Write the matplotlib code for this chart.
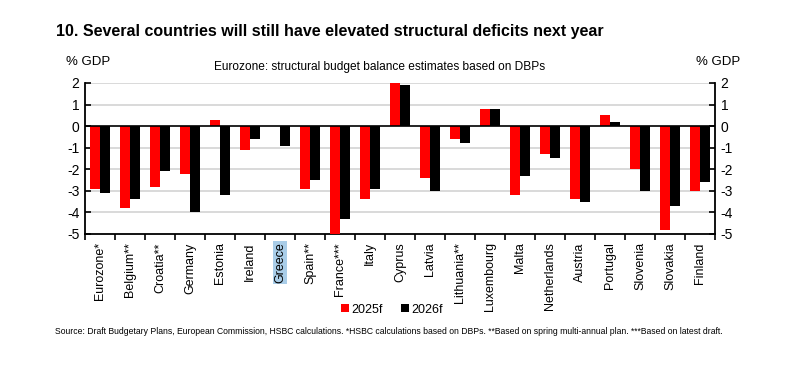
import matplotlib
matplotlib.use("Agg")
import matplotlib.pyplot as plt
import numpy as np

plt.rcParams['font.family'] = ['Liberation Sans', 'DejaVu Sans']

# Datos (% del PIB)
paises = ["Eurozone*", "Belgium**", "Croatia**", "Germany", "Estonia", "Ireland",
          "Greece", "Spain**", "France***", "Italy", "Cyprus", "Latvia",
          "Lithuania**", "Luxembourg", "Malta", "Netherlands", "Austria",
          "Portugal", "Slovenia", "Slovakia", "Finland"]
saldo_2025 = [-2.9, -3.8, -2.8, -2.2, 0.3, -1.1, 0.0, -2.9, -5.0, -3.4, 2.0,
              -2.4, -0.6, 0.8, -3.2, -1.3, -3.4, 0.5, -2.0, -4.8, -3.0]
saldo_2026 = [-3.1, -3.4, -2.1, -4.0, -3.2, -0.6, -0.9, -2.5, -4.3, -2.9, 1.9,
              -3.0, -0.8, 0.8, -2.3, -1.5, -3.5, 0.2, -3.0, -3.7, -2.6]
ticks_y = [2, 1, 0, -1, -2, -3, -4, -5]

fig = plt.figure(figsize=(8, 3.72), dpi=100)
ax = fig.add_axes([0.10625, 0.371, 0.7875, 0.406])

x = np.arange(len(paises))
ancho = 0.335
ax.bar(x - ancho / 2, saldo_2025, ancho, color='#ff0000', label='2025f', zorder=3)
ax.bar(x + ancho / 2, saldo_2026, ancho, color='#000000', label='2026f', zorder=3)

ax.set_xlim(-0.5, len(paises) - 0.5)
ax.set_ylim(-5, 2)

# Rejilla y línea de cero
for v in ticks_y:
    if v == 0:
        ax.axhline(0, color='black', linewidth=1.2, zorder=4)
    elif v != -5:
        ax.axhline(v, color='#d9d9d9', linewidth=1.4, zorder=1)

ax.spines['top'].set_visible(False)
for s in ['left', 'right', 'bottom']:
    ax.spines[s].set_linewidth(1.3)
    ax.spines[s].set_color('black')

ax.set_yticks(ticks_y)
ax.set_yticklabels([str(v) for v in ticks_y], fontsize=10)
ax.tick_params(axis='y', direction='in', length=4, width=1.2, left=True, right=True,
               labelleft=True, labelright=True, pad=4)

# Ticks del eje X en los bordes de categoría, etiquetas centradas
ax.set_xticks(np.arange(len(paises) + 1) - 0.5)
ax.set_xticklabels([])
ax.set_xticks(x, minor=True)
ax.set_xticklabels(paises, minor=True, rotation=90, fontsize=9, va='top')
ax.tick_params(axis='x', which='major', direction='out', length=4, width=1.2)
ax.tick_params(axis='x', which='minor', length=0, pad=6)

for lbl in ax.get_xticklabels(minor=True):
    if lbl.get_text() == 'Greece':
        lbl.set_bbox(dict(facecolor='#a9cde8', edgecolor='none', pad=1))

# Textos
fig.text(0.07, 0.915, "10. Several countries will still have elevated structural deficits next year",
         fontsize=11.5, fontweight='bold', va='center')
fig.text(0.082, 0.833, "% GDP", fontsize=9.5, va='center')
fig.text(0.87, 0.833, "% GDP", fontsize=9.5, va='center')
fig.text(0.475, 0.82, "Eurozone: structural budget balance estimates based on DBPs",
         fontsize=8.6, ha='center', va='center')

ax.legend(loc='center', bbox_to_anchor=(0.49, 0.168), bbox_transform=fig.transFigure,
          ncol=2, frameon=False, fontsize=9, handlelength=0.6, handleheight=0.6,
          handletextpad=0.2, columnspacing=1.5)

fig.text(0.069, 0.108,
         "Source: Draft Budgetary Plans, European Commission, HSBC calculations. *HSBC calculations based on DBPs. "
         "**Based on spring multi-annual plan. ***Based on latest draft.",
         fontsize=6.2, va='center')

fig.savefig("out.png", dpi=100)
